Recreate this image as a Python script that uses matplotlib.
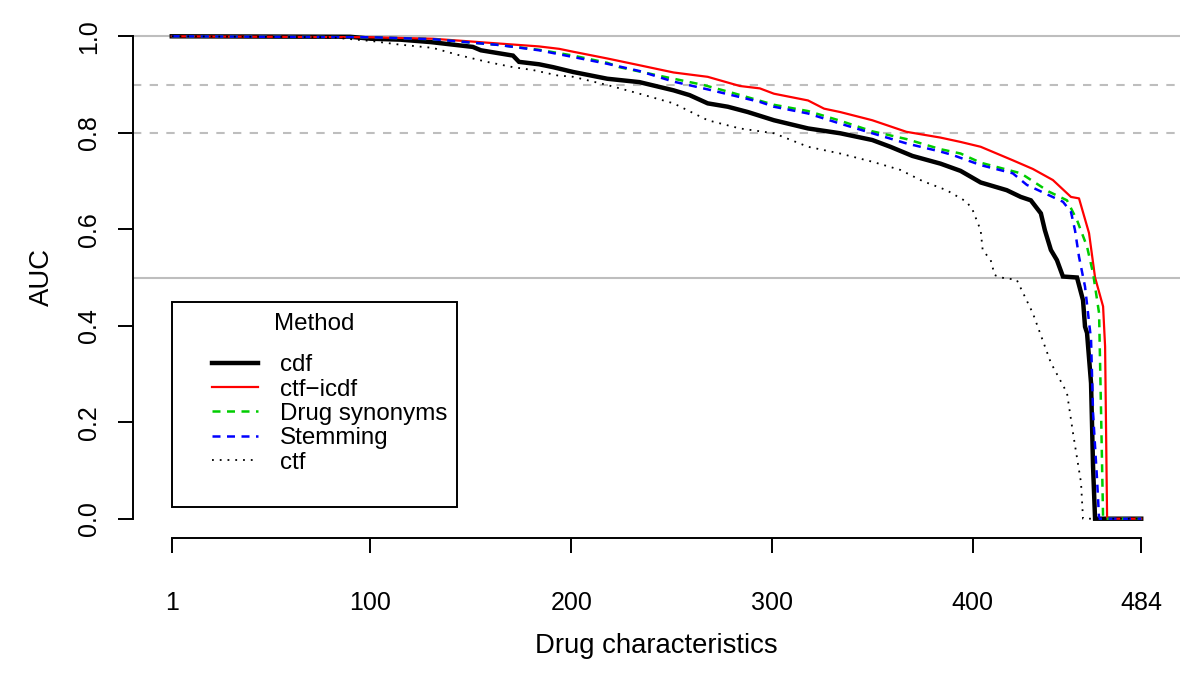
import matplotlib
matplotlib.use("Agg")
import matplotlib.pyplot as plt
from matplotlib.patches import Rectangle

plt.rcParams['font.family'] = ['Liberation Sans', 'DejaVu Sans']

# values (sorted AUC per drug characteristic)
cdf_x = [1, 90, 100, 115, 130, 151, 155, 171, 174, 184, 191, 201, 218, 234, 251, 259, 268, 278, 288,
         301, 318, 334, 350, 359, 370, 384, 394, 404, 417, 424, 429, 434, 436, 439, 442, 445, 452,
         455, 456, 457, 459, 460, 461, 484]
cdf_y = [1.0, 0.999, 0.995, 0.993, 0.988, 0.978, 0.971, 0.960, 0.947, 0.942, 0.936, 0.926, 0.912, 0.905,
         0.888, 0.878, 0.861, 0.854, 0.843, 0.826, 0.809, 0.799, 0.785, 0.771, 0.752, 0.736, 0.721,
         0.697, 0.681, 0.667, 0.660, 0.633, 0.598, 0.557, 0.536, 0.502, 0.500, 0.453, 0.398, 0.385,
         0.281, 0.108, 0.0, 0.0]

icdf_x = [1, 100, 131, 164, 184, 194, 201, 218, 234, 251, 268, 284, 294, 301, 318, 326, 334, 350, 367,
          384, 394, 404, 420, 430, 440, 449, 453, 458, 461, 465, 466, 467, 484]
icdf_y = [1.0, 0.998, 0.995, 0.985, 0.979, 0.974, 0.968, 0.954, 0.940, 0.925, 0.916, 0.897, 0.892, 0.881,
          0.867, 0.850, 0.843, 0.826, 0.802, 0.790, 0.781, 0.771, 0.743, 0.725, 0.702, 0.667, 0.664,
          0.592, 0.500, 0.440, 0.357, 0.0, 0.0]

syn_x = [1, 100, 131, 164, 184, 201, 218, 224, 243, 266, 281, 301, 318, 334, 350, 367, 384, 394, 404,
         424, 438, 447, 452, 457, 460, 463, 464, 465, 484]
syn_y = [1.0, 0.998, 0.994, 0.982, 0.972, 0.960, 0.945, 0.936, 0.919, 0.899, 0.882, 0.858, 0.845, 0.825,
         0.803, 0.787, 0.766, 0.757, 0.738, 0.716, 0.678, 0.660, 0.619, 0.564, 0.509, 0.426, 0.219,
         0.0, 0.0]

stem_x = [1, 100, 131, 164, 184, 201, 218, 234, 251, 268, 284, 294, 301, 318, 334, 350, 367, 384, 390,
          404, 420, 427, 445, 449, 451, 453, 456, 459, 460, 462, 463, 484]
stem_y = [1.0, 0.998, 0.994, 0.982, 0.971, 0.957, 0.943, 0.928, 0.906, 0.890, 0.874, 0.864, 0.854,
          0.840, 0.819, 0.799, 0.778, 0.761, 0.754, 0.733, 0.716, 0.692, 0.657, 0.636, 0.598, 0.543,
          0.481, 0.371, 0.219, 0.081, 0.0, 0.0]

ctf_x = [1, 80, 101, 114, 131, 144, 158, 171, 181, 193, 201, 218, 234, 251, 268, 284, 301, 318, 334,
         350, 364, 375, 387, 397, 400, 404, 405, 409, 411, 414, 422, 430, 439, 447, 450, 454, 455, 484]
ctf_y = [1.0, 0.998, 0.990, 0.983, 0.976, 0.961, 0.947, 0.936, 0.930, 0.919, 0.916, 0.899, 0.881, 0.861,
         0.826, 0.809, 0.799, 0.771, 0.757, 0.740, 0.723, 0.700, 0.681, 0.657, 0.640, 0.598, 0.557,
         0.536, 0.505, 0.500, 0.495, 0.426, 0.323, 0.261, 0.178, 0.075, 0.0, 0.0]

x_ticks = [1, 100, 200, 300, 400, 484]
y_ticks = [0.0, 0.2, 0.4, 0.6, 0.8, 1.0]
ref_solid = [1.0, 0.5]
ref_dashed = [0.9, 0.8]

W, H = 1200, 678
fig = plt.figure(figsize=(W / 100, H / 100), dpi=100)
ax = fig.add_axes([133 / W, 1 - 538 / H, (1180 - 133) / W, (538 - 17) / H])

grey = '#BEBEBE'
for v in ref_solid:
    ax.axhline(v, color=grey, lw=1.5, zorder=1)
for v in ref_dashed:
    ax.axhline(v, color=grey, lw=1.5, ls=(0, (4, 4)), zorder=1)

ax.plot(cdf_x, cdf_y, color='black', lw=3.2, label='cdf', solid_joinstyle='miter')
ax.plot(icdf_x, icdf_y, color='#FF0000', lw=1.6, label='ctf\u2212icdf')
ax.plot(syn_x, syn_y, color='#00CD00', lw=1.8, ls=(0, (3.2, 2.6)), label='Drug synonyms')
ax.plot(stem_x, stem_y, color='#0000FF', lw=1.8, ls=(0, (3.2, 2.6)), label='Stemming')
ax.plot(ctf_x, ctf_y, color='black', lw=1.3, ls=(0, (1, 3.3)), label='ctf')

ax.set_xlim(1 - 0.04 * 483, 484 + 0.04 * 483)
ax.set_ylim(-0.04, 1.04)

for s in ['top', 'right']:
    ax.spines[s].set_visible(False)
ax.spines['left'].set_bounds(0, 1)
ax.spines['bottom'].set_bounds(1, 484)
ax.spines['left'].set_linewidth(1.4)
ax.spines['bottom'].set_linewidth(1.4)

ax.set_xticks(x_ticks, [str(t) for t in x_ticks])
ax.set_yticks(y_ticks, ['%.1f' % t for t in y_ticks])
ax.tick_params(axis='x', length=11, width=1.4, pad=27, labelsize=18)
ax.tick_params(axis='y', length=11, width=1.4, pad=12, labelsize=18)
for lbl in ax.get_yticklabels():
    lbl.set_rotation(90)
    lbl.set_va('center')

ax.set_xlabel('Drug characteristics', fontsize=19.8, labelpad=13)
ax.set_ylabel('AUC', fontsize=19.8, labelpad=16)

# legend box like R's legend()
fig.patches.append(Rectangle((172 / W, 1 - 507 / H), (457 - 172) / W, (507 - 302) / H,
                             transform=fig.transFigure, fill=False, ec='black', lw=1.4))
fig.text(314.5 / W, 1 - 324 / H, 'Method', ha='center', va='center', fontsize=17.4)
leg = ax.legend(loc='upper left', bbox_to_anchor=(200 / W, 1 - 342 / H),
                bbox_transform=fig.transFigure, frameon=False, fontsize=17.4,
                handlelength=1.9, handletextpad=0.9, labelspacing=0.1, borderpad=0)

fig.savefig('out.png', dpi=100)
